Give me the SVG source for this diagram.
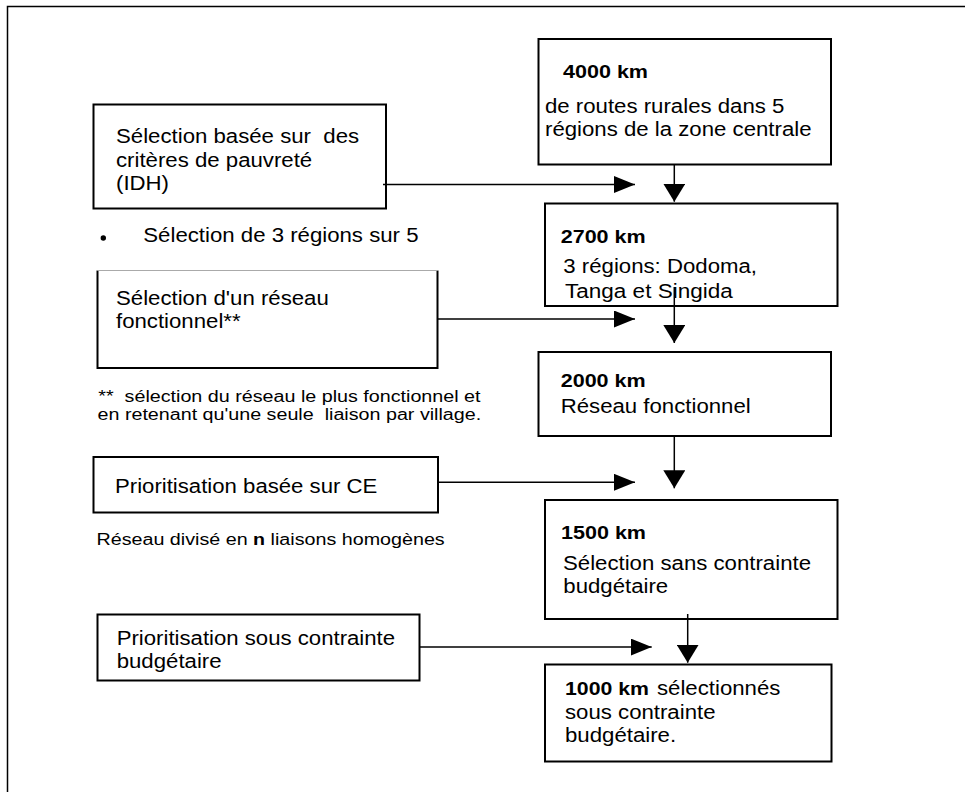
<svg xmlns="http://www.w3.org/2000/svg" width="965" height="792" viewBox="0 0 965 792">
<style>
.box{fill:#fff;stroke:#000;stroke-width:2}
.t{font-family:"Liberation Sans",Arial,sans-serif;font-size:20px;fill:#000}
.b{font-weight:bold;font-size:18px}
.s{font-size:16px}
.c{stroke:#000;stroke-width:1.5;fill:none}
</style>
<defs>
<marker id="ah" markerUnits="userSpaceOnUse" markerWidth="22" markerHeight="17" refX="21" refY="8.5" orient="auto">
<path d="M0,0 L21,8.5 L0,17 z" fill="#000"/>
</marker>
<marker id="av" markerUnits="userSpaceOnUse" markerWidth="19" markerHeight="22" refX="18" refY="11" orient="auto">
<path d="M0,0 L18,11 L0,22 z" fill="#000"/>
</marker>
</defs>
<rect width="965" height="792" fill="#fff"/>
<path d="M7.5,792 V6.5 H965" fill="none" stroke="#000" stroke-width="1.5"/>

<g id="n4000">
<rect class="box" x="538.5" y="39" width="292.5" height="125.5"/>
<text class="t b" x="563" y="77.5" textLength="85" lengthAdjust="spacingAndGlyphs">4000 km</text>
<text class="t" x="545" y="113" textLength="239.4" lengthAdjust="spacingAndGlyphs">de routes rurales dans 5</text>
<text class="t" x="545" y="135.5" textLength="266.5" lengthAdjust="spacingAndGlyphs">régions de la zone centrale</text>
</g>

<g id="nIDH">
<rect class="box" x="93.5" y="104.5" width="292.5" height="104"/>
<text class="t" x="116" y="143.3" xml:space="preserve" textLength="243.1" lengthAdjust="spacingAndGlyphs">Sélection basée sur  des</text>
<text class="t" x="116" y="166.7" textLength="196.2" lengthAdjust="spacingAndGlyphs">critères de pauvreté</text>
<text class="t" x="116" y="190" textLength="53" lengthAdjust="spacingAndGlyphs">(IDH)</text>
</g>

<g id="nBullet">
<circle cx="103.3" cy="238" r="2.7" fill="#000"/>
<text class="t" x="143.3" y="242" textLength="275.2" lengthAdjust="spacingAndGlyphs">Sélection de 3 régions sur 5</text>
</g>

<g id="n2700">
<rect class="box" x="545" y="203.5" width="292.5" height="102.5"/>
<text class="t b" x="560.7" y="243.3" textLength="85" lengthAdjust="spacingAndGlyphs">2700 km</text>
<text class="t" x="563.3" y="273.3" textLength="193.7" lengthAdjust="spacingAndGlyphs">3 régions: Dodoma,</text>
<text class="t" x="565" y="298.3" textLength="167.8" lengthAdjust="spacingAndGlyphs">Tanga et Singida</text>
</g>

<g id="nReseau">
<rect x="97.5" y="270.5" width="340" height="97.5" fill="#fff"/>
<path d="M97.5,270.5 V368 H437.5 V270.5" fill="none" stroke="#000" stroke-width="2"/>
<path d="M97.5,270.5 H437.5" fill="none" stroke="#aaa" stroke-width="1.2"/>
<text class="t" x="116" y="305" textLength="212.8" lengthAdjust="spacingAndGlyphs">Sélection d'un réseau</text>
<text class="t" x="116" y="328.3" textLength="124.6" lengthAdjust="spacingAndGlyphs">fonctionnel**</text>
</g>

<g id="nNote">
<text class="t s" x="98.3" y="401.7" xml:space="preserve" textLength="382.2" lengthAdjust="spacingAndGlyphs">**  sélection du réseau le plus fonctionnel et</text>
<text class="t s" x="97.5" y="419.5" xml:space="preserve" textLength="383.7" lengthAdjust="spacingAndGlyphs">en retenant qu'une seule  liaison par village.</text>
</g>

<g id="n2000">
<rect class="box" x="538.5" y="352" width="292.5" height="84"/>
<text class="t b" x="560.7" y="386.7" textLength="85" lengthAdjust="spacingAndGlyphs">2000 km</text>
<text class="t" x="560.7" y="413.3" textLength="190" lengthAdjust="spacingAndGlyphs">Réseau fonctionnel</text>
</g>

<g id="nCE">
<rect class="box" x="93.5" y="457" width="344.5" height="55.5"/>
<text class="t" x="115" y="493.3" textLength="262.3" lengthAdjust="spacingAndGlyphs">Prioritisation basée sur CE</text>
</g>

<g id="nDivise">
<text class="t s" x="96.5" y="545" textLength="151.1" lengthAdjust="spacingAndGlyphs">Réseau divisé en</text>
<text class="t s" x="253.1" y="545" font-weight="bold" textLength="12" lengthAdjust="spacingAndGlyphs">n</text>
<text class="t s" x="270.6" y="545" textLength="174.1" lengthAdjust="spacingAndGlyphs">liaisons homogènes</text>
</g>

<g id="n1500">
<rect class="box" x="545" y="500" width="292.5" height="119"/>
<text class="t b" x="561" y="539.4" textLength="85" lengthAdjust="spacingAndGlyphs">1500 km</text>
<text class="t" x="563" y="569.5" textLength="248" lengthAdjust="spacingAndGlyphs">Sélection sans contrainte</text>
<text class="t" x="563.3" y="593.3" textLength="104.9" lengthAdjust="spacingAndGlyphs">budgétaire</text>
</g>

<g id="nBudget">
<rect class="box" x="97.5" y="614.5" width="322" height="66"/>
<text class="t" x="116.7" y="645" textLength="278.4" lengthAdjust="spacingAndGlyphs">Prioritisation sous contrainte</text>
<text class="t" x="116.7" y="668.3" textLength="104.9" lengthAdjust="spacingAndGlyphs">budgétaire</text>
</g>

<g id="n1000">
<rect class="box" x="545" y="664.5" width="286.5" height="97"/>
<text class="t b" x="565" y="695" textLength="84" lengthAdjust="spacingAndGlyphs">1000 km</text>
<text class="t" x="657" y="695" textLength="123.4" lengthAdjust="spacingAndGlyphs">sélectionnés</text>
<text class="t" x="565" y="718.5" textLength="150.5" lengthAdjust="spacingAndGlyphs">sous contrainte</text>
<text class="t" x="565" y="742" textLength="111.1" lengthAdjust="spacingAndGlyphs">budgétaire.</text>
</g>

<g id="connectors">
<line class="c" x1="383" y1="184.5" x2="635" y2="184.5" marker-end="url(#ah)"/>
<line class="c" x1="437.5" y1="319" x2="635" y2="319" marker-end="url(#ah)"/>
<line class="c" x1="438" y1="482.3" x2="635" y2="482.3" marker-end="url(#ah)"/>
<line class="c" x1="419.5" y1="647" x2="651.7" y2="647" marker-end="url(#ah)"/>
<line class="c" x1="674.3" y1="164.5" x2="674.3" y2="201.7" marker-end="url(#av)"/>
<line class="c" x1="674.3" y1="287" x2="674.3" y2="343" marker-end="url(#av)"/>
<line class="c" x1="674.3" y1="436" x2="674.3" y2="488.3" marker-end="url(#av)"/>
<line class="c" x1="687.7" y1="614" x2="687.7" y2="662.7" marker-end="url(#av)"/>
</g>
</svg>
